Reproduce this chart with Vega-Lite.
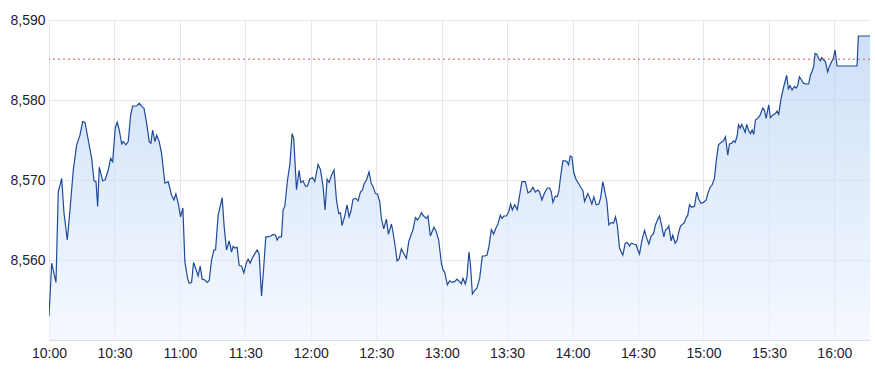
{
  "$schema": "https://vega.github.io/schema/vega-lite/v6.json",
  "width": 821,
  "height": 320,
  "autosize": "none",
  "padding": {"left": 49, "top": 20, "right": 5, "bottom": 35},
  "config": {
    "view": {"stroke": null},
    "font": "Liberation Sans",
    "axis": {"labelFont": "Liberation Sans", "labelFontSize": 14, "labelColor": "#1e2230", "gridColor": "#e6e6ea", "gridWidth": 1}
  },
  "layer": [
    {
      "data": {"values": [
        {"t":"2024-01-02T10:00:00","v":8553.0},{"t":"2024-01-02T10:01:14","v":8559.6},{"t":"2024-01-02T10:03:12","v":8557.2},{"t":"2024-01-02T10:04:15","v":8568.5},{"t":"2024-01-02T10:05:49","v":8570.2},{"t":"2024-01-02T10:06:52","v":8565.9},{"t":"2024-01-02T10:08:23","v":8562.5},{"t":"2024-01-02T10:09:37","v":8566.25},{"t":"2024-01-02T10:11:08","v":8571.25},{"t":"2024-01-02T10:12:41","v":8574.4},{"t":"2024-01-02T10:14:12","v":8575.6},{"t":"2024-01-02T10:15:26","v":8577.3},{"t":"2024-01-02T10:16:29","v":8577.2},{"t":"2024-01-02T10:18:00","v":8575.0},{"t":"2024-01-02T10:19:34","v":8572.7},{"t":"2024-01-02T10:20:37","v":8569.9},{"t":"2024-01-02T10:21:32","v":8569.8},{"t":"2024-01-02T10:22:18","v":8566.7},{"t":"2024-01-02T10:23:02","v":8571.6},{"t":"2024-01-02T10:24:36","v":8569.9},{"t":"2024-01-02T10:25:39","v":8570.0},{"t":"2024-01-02T10:27:10","v":8571.25},{"t":"2024-01-02T10:28:16","v":8572.7},{"t":"2024-01-02T10:29:11","v":8572.3},{"t":"2024-01-02T10:30:22","v":8576.5},{"t":"2024-01-02T10:31:17","v":8577.2},{"t":"2024-01-02T10:32:12","v":8576.25},{"t":"2024-01-02T10:33:18","v":8574.5},{"t":"2024-01-02T10:34:02","v":8574.8},{"t":"2024-01-02T10:35:16","v":8574.4},{"t":"2024-01-02T10:36:19","v":8574.8},{"t":"2024-01-02T10:37:25","v":8578.1},{"t":"2024-01-02T10:38:20","v":8579.25},{"t":"2024-01-02T10:40:10","v":8579.25},{"t":"2024-01-02T10:41:22","v":8579.6},{"t":"2024-01-02T10:42:28","v":8579.2},{"t":"2024-01-02T10:43:31","v":8579.0},{"t":"2024-01-02T10:44:45","v":8577.1},{"t":"2024-01-02T10:45:56","v":8574.8},{"t":"2024-01-02T10:46:43","v":8574.6},{"t":"2024-01-02T10:47:30","v":8576.25},{"t":"2024-01-02T10:48:33","v":8574.8},{"t":"2024-01-02T10:49:20","v":8575.6},{"t":"2024-01-02T10:50:31","v":8574.8},{"t":"2024-01-02T10:51:37","v":8573.3},{"t":"2024-01-02T10:53:08","v":8569.6},{"t":"2024-01-02T10:54:38","v":8569.8},{"t":"2024-01-02T10:56:12","v":8568.1},{"t":"2024-01-02T10:57:15","v":8567.5},{"t":"2024-01-02T10:58:10","v":8568.25},{"t":"2024-01-02T10:59:13","v":8567.1},
        {"t":"2024-01-02T11:00:19","v":8565.4},{"t":"2024-01-02T11:01:22","v":8566.5},{"t":"2024-01-02T11:02:17","v":8559.8},{"t":"2024-01-02T11:03:32","v":8557.7},{"t":"2024-01-02T11:04:16","v":8557.1},{"t":"2024-01-02T11:05:22","v":8557.2},{"t":"2024-01-02T11:06:16","v":8559.7},{"t":"2024-01-02T11:07:11","v":8559.0},{"t":"2024-01-02T11:08:23","v":8558.0},{"t":"2024-01-02T11:09:18","v":8559.25},{"t":"2024-01-02T11:10:13","v":8557.6},{"t":"2024-01-02T11:11:27","v":8557.5},{"t":"2024-01-02T11:12:30","v":8557.2},{"t":"2024-01-02T11:13:25","v":8557.4},{"t":"2024-01-02T11:14:31","v":8560.0},{"t":"2024-01-02T11:15:34","v":8561.25},{"t":"2024-01-02T11:16:21","v":8561.25},{"t":"2024-01-02T11:17:32","v":8565.6},{"t":"2024-01-02T11:18:38","v":8566.9},{"t":"2024-01-02T11:19:22","v":8567.8},{"t":"2024-01-02T11:20:17","v":8564.2},{"t":"2024-01-02T11:21:23","v":8561.25},{"t":"2024-01-02T11:22:35","v":8562.4},{"t":"2024-01-02T11:23:41","v":8561.0},{"t":"2024-01-02T11:24:25","v":8561.7},{"t":"2024-01-02T11:25:11","v":8561.5},{"t":"2024-01-02T11:26:14","v":8561.6},{"t":"2024-01-02T11:27:10","v":8559.3},{"t":"2024-01-02T11:28:16","v":8559.25},{"t":"2024-01-02T11:29:19","v":8558.4},{"t":"2024-01-02T11:30:33","v":8559.7},{"t":"2024-01-02T11:31:17","v":8560.1},{"t":"2024-01-02T11:32:12","v":8559.6},{"t":"2024-01-02T11:33:18","v":8560.3},{"t":"2024-01-02T11:34:21","v":8560.8},{"t":"2024-01-02T11:35:24","v":8561.25},{"t":"2024-01-02T11:36:19","v":8560.8},{"t":"2024-01-02T11:37:25","v":8555.5},{"t":"2024-01-02T11:38:20","v":8558.75},{"t":"2024-01-02T11:39:23","v":8562.9},{"t":"2024-01-02T11:40:26","v":8562.9},{"t":"2024-01-02T11:41:41","v":8563.0},{"t":"2024-01-02T11:42:44","v":8563.2},{"t":"2024-01-02T11:43:50","v":8563.1},{"t":"2024-01-02T11:44:34","v":8562.5},{"t":"2024-01-02T11:45:29","v":8562.9},{"t":"2024-01-02T11:46:35","v":8562.9},{"t":"2024-01-02T11:47:19","v":8566.25},{"t":"2024-01-02T11:48:05","v":8566.7},{"t":"2024-01-02T11:49:20","v":8570.0},{"t":"2024-01-02T11:50:23","v":8571.9},{"t":"2024-01-02T11:51:26","v":8575.8},{"t":"2024-01-02T11:52:13","v":8575.1},{"t":"2024-01-02T11:52:40","v":8572.7},{"t":"2024-01-02T11:53:27","v":8568.8},{"t":"2024-01-02T11:54:38","v":8571.2},{"t":"2024-01-02T11:55:25","v":8569.7},{"t":"2024-01-02T11:56:28","v":8569.9},{"t":"2024-01-02T11:57:34","v":8569.2},{"t":"2024-01-02T11:58:29","v":8569.25},{"t":"2024-01-02T11:59:32","v":8570.1},
        {"t":"2024-01-02T12:00:47","v":8570.3},{"t":"2024-01-02T12:01:50","v":8569.8},{"t":"2024-01-02T12:03:20","v":8571.95},{"t":"2024-01-02T12:04:26","v":8571.3},{"t":"2024-01-02T12:05:38","v":8569.2},{"t":"2024-01-02T12:06:33","v":8566.25},{"t":"2024-01-02T12:07:28","v":8570.1},{"t":"2024-01-02T12:08:23","v":8569.7},{"t":"2024-01-02T12:09:29","v":8570.6},{"t":"2024-01-02T12:10:40","v":8571.25},{"t":"2024-01-02T12:11:46","v":8567.5},{"t":"2024-01-02T12:12:49","v":8565.8},{"t":"2024-01-02T12:13:36","v":8565.9},{"t":"2024-01-02T12:14:20","v":8564.3},{"t":"2024-01-02T12:15:34","v":8565.5},{"t":"2024-01-02T12:16:37","v":8566.9},{"t":"2024-01-02T12:17:32","v":8565.4},{"t":"2024-01-02T12:18:19","v":8566.0},{"t":"2024-01-02T12:19:22","v":8567.6},{"t":"2024-01-02T12:20:37","v":8567.7},{"t":"2024-01-02T12:21:40","v":8567.4},{"t":"2024-01-02T12:22:46","v":8568.5},{"t":"2024-01-02T12:23:41","v":8568.75},{"t":"2024-01-02T12:24:25","v":8569.5},{"t":"2024-01-02T12:25:31","v":8570.0},{"t":"2024-01-02T12:26:42","v":8571.0},{"t":"2024-01-02T12:27:48","v":8569.5},{"t":"2024-01-02T12:28:32","v":8569.2},{"t":"2024-01-02T12:29:38","v":8568.3},{"t":"2024-01-02T12:30:33","v":8568.25},{"t":"2024-01-02T12:31:36","v":8567.3},{"t":"2024-01-02T12:32:23","v":8565.2},{"t":"2024-01-02T12:33:26","v":8563.9},{"t":"2024-01-02T12:34:40","v":8565.1},{"t":"2024-01-02T12:35:35","v":8563.2},{"t":"2024-01-02T12:36:58","v":8564.5},{"t":"2024-01-02T12:37:41","v":8563.5},{"t":"2024-01-02T12:38:47","v":8561.5},{"t":"2024-01-02T12:39:31","v":8559.9},{"t":"2024-01-02T12:40:26","v":8560.1},{"t":"2024-01-02T12:41:32","v":8561.4},{"t":"2024-01-02T12:42:44","v":8560.75},{"t":"2024-01-02T12:43:50","v":8560.2},{"t":"2024-01-02T12:44:53","v":8562.3},{"t":"2024-01-02T12:46:07","v":8563.25},{"t":"2024-01-02T12:46:52","v":8563.8},{"t":"2024-01-02T12:47:57","v":8565.3},{"t":"2024-01-02T12:48:52","v":8565.0},{"t":"2024-01-02T12:49:55","v":8565.4},{"t":"2024-01-02T12:50:42","v":8565.9},{"t":"2024-01-02T12:51:45","v":8565.5},{"t":"2024-01-02T12:52:59","v":8565.2},{"t":"2024-01-02T12:53:43","v":8565.5},{"t":"2024-01-02T12:54:49","v":8563.0},{"t":"2024-01-02T12:55:33","v":8563.5},{"t":"2024-01-02T12:56:28","v":8564.1},{"t":"2024-01-02T12:57:34","v":8563.5},{"t":"2024-01-02T12:58:37","v":8562.5},{"t":"2024-01-02T12:59:52","v":8559.6},
        {"t":"2024-01-02T13:00:36","v":8558.75},{"t":"2024-01-02T13:01:22","v":8558.5},{"t":"2024-01-02T13:02:37","v":8556.9},{"t":"2024-01-02T13:03:40","v":8557.4},{"t":"2024-01-02T13:04:43","v":8557.2},{"t":"2024-01-02T13:05:57","v":8557.3},{"t":"2024-01-02T13:07:00","v":8557.6},{"t":"2024-01-02T13:08:14","v":8557.3},{"t":"2024-01-02T13:09:01","v":8557.0},{"t":"2024-01-02T13:09:45","v":8557.7},{"t":"2024-01-02T13:10:51","v":8557.0},{"t":"2024-01-02T13:11:35","v":8557.9},{"t":"2024-01-02T13:12:30","v":8561.0},{"t":"2024-01-02T13:13:08","v":8559.6},{"t":"2024-01-02T13:14:04","v":8555.75},{"t":"2024-01-02T13:15:07","v":8556.2},{"t":"2024-01-02T13:16:10","v":8556.5},{"t":"2024-01-02T13:17:24","v":8557.7},{"t":"2024-01-02T13:18:38","v":8560.5},{"t":"2024-01-02T13:19:41","v":8560.5},{"t":"2024-01-02T13:20:45","v":8560.6},{"t":"2024-01-02T13:21:40","v":8561.7},{"t":"2024-01-02T13:22:46","v":8563.8},{"t":"2024-01-02T13:23:49","v":8563.25},{"t":"2024-01-02T13:24:44","v":8563.9},{"t":"2024-01-02T13:25:47","v":8564.5},{"t":"2024-01-02T13:26:53","v":8565.6},{"t":"2024-01-02T13:27:37","v":8565.2},{"t":"2024-01-02T13:28:32","v":8565.5},{"t":"2024-01-02T13:29:38","v":8565.5},{"t":"2024-01-02T13:30:41","v":8566.0},{"t":"2024-01-02T13:31:36","v":8567.0},{"t":"2024-01-02T13:32:23","v":8566.25},{"t":"2024-01-02T13:33:26","v":8566.9},{"t":"2024-01-02T13:34:40","v":8566.3},{"t":"2024-01-02T13:35:44","v":8568.1},{"t":"2024-01-02T13:36:47","v":8569.8},{"t":"2024-01-02T13:38:20","v":8569.8},{"t":"2024-01-02T13:39:32","v":8568.4},{"t":"2024-01-02T13:40:46","v":8568.6},{"t":"2024-01-02T13:41:49","v":8569.1},{"t":"2024-01-02T13:42:55","v":8568.5},{"t":"2024-01-02T13:44:06","v":8568.75},{"t":"2024-01-02T13:44:53","v":8568.5},{"t":"2024-01-02T13:45:56","v":8567.5},{"t":"2024-01-02T13:47:11","v":8568.4},{"t":"2024-01-02T13:48:25","v":8569.0},{"t":"2024-01-02T13:49:28","v":8569.0},{"t":"2024-01-02T13:50:14","v":8568.5},{"t":"2024-01-02T13:50:59","v":8567.2},{"t":"2024-01-02T13:52:04","v":8568.0},{"t":"2024-01-02T13:52:59","v":8567.9},{"t":"2024-01-02T13:53:43","v":8568.6},{"t":"2024-01-02T13:54:30","v":8570.4},{"t":"2024-01-02T13:55:33","v":8572.4},{"t":"2024-01-02T13:56:39","v":8572.4},{"t":"2024-01-02T13:57:23","v":8572.3},{"t":"2024-01-02T13:58:10","v":8571.9},{"t":"2024-01-02T13:58:56","v":8573.0},{"t":"2024-01-02T13:59:40","v":8572.9},
        {"t":"2024-01-02T14:00:35","v":8570.9},{"t":"2024-01-02T14:01:41","v":8570.0},{"t":"2024-01-02T14:02:53","v":8569.5},{"t":"2024-01-02T14:03:59","v":8569.0},{"t":"2024-01-02T14:04:43","v":8568.7},{"t":"2024-01-02T14:05:29","v":8567.3},{"t":"2024-01-02T14:07:00","v":8568.3},{"t":"2024-01-02T14:07:47","v":8567.8},{"t":"2024-01-02T14:08:50","v":8567.0},{"t":"2024-01-02T14:09:45","v":8567.9},{"t":"2024-01-02T14:10:51","v":8566.9},{"t":"2024-01-02T14:12:02","v":8567.0},{"t":"2024-01-02T14:12:49","v":8567.7},{"t":"2024-01-02T14:13:52","v":8569.8},{"t":"2024-01-02T14:15:07","v":8568.1},{"t":"2024-01-02T14:15:43","v":8567.3},{"t":"2024-01-02T14:16:37","v":8564.4},{"t":"2024-01-02T14:17:43","v":8564.7},{"t":"2024-01-02T14:18:47","v":8564.6},{"t":"2024-01-02T14:19:41","v":8565.4},{"t":"2024-01-02T14:20:28","v":8564.4},{"t":"2024-01-02T14:21:32","v":8561.5},{"t":"2024-01-02T14:22:19","v":8561.0},{"t":"2024-01-02T14:23:02","v":8560.6},{"t":"2024-01-02T14:24:08","v":8562.1},{"t":"2024-01-02T14:25:04","v":8562.2},{"t":"2024-01-02T14:26:07","v":8561.75},{"t":"2024-01-02T14:26:53","v":8562.1},{"t":"2024-01-02T14:27:56","v":8562.0},{"t":"2024-01-02T14:29:11","v":8561.9},{"t":"2024-01-02T14:29:55","v":8561.25},{"t":"2024-01-02T14:30:41","v":8560.75},{"t":"2024-01-02T14:31:44","v":8562.4},{"t":"2024-01-02T14:32:59","v":8563.7},{"t":"2024-01-02T14:34:02","v":8562.7},{"t":"2024-01-02T14:34:57","v":8562.0},{"t":"2024-01-02T14:36:02","v":8563.0},{"t":"2024-01-02T14:37:06","v":8563.3},{"t":"2024-01-02T14:38:01","v":8564.4},{"t":"2024-01-02T14:39:04","v":8565.1},{"t":"2024-01-02T14:39:51","v":8565.5},{"t":"2024-01-02T14:40:54","v":8564.2},{"t":"2024-01-02T14:41:49","v":8562.9},{"t":"2024-01-02T14:42:35","v":8563.75},{"t":"2024-01-02T14:43:38","v":8564.0},{"t":"2024-01-02T14:44:06","v":8564.25},{"t":"2024-01-02T14:45:12","v":8562.4},{"t":"2024-01-02T14:45:56","v":8563.1},{"t":"2024-01-02T14:47:02","v":8562.1},{"t":"2024-01-02T14:47:57","v":8562.5},{"t":"2024-01-02T14:48:41","v":8563.5},{"t":"2024-01-02T14:49:28","v":8564.25},{"t":"2024-01-02T14:50:31","v":8564.5},{"t":"2024-01-02T14:51:17","v":8564.7},{"t":"2024-01-02T14:52:04","v":8565.3},{"t":"2024-01-02T14:52:48","v":8565.6},{"t":"2024-01-02T14:53:35","v":8566.9},{"t":"2024-01-02T14:54:38","v":8566.6},{"t":"2024-01-02T14:55:53","v":8566.7},{"t":"2024-01-02T14:56:56","v":8568.5},{"t":"2024-01-02T14:57:50","v":8567.6},{"t":"2024-01-02T14:58:56","v":8567.1},
        {"t":"2024-01-02T15:00:00","v":8567.2},{"t":"2024-01-02T15:01:14","v":8567.5},{"t":"2024-01-02T15:01:58","v":8568.3},{"t":"2024-01-02T15:03:04","v":8569.1},{"t":"2024-01-02T15:03:59","v":8569.4},{"t":"2024-01-02T15:05:02","v":8570.2},{"t":"2024-01-02T15:05:49","v":8572.3},{"t":"2024-01-02T15:06:52","v":8574.4},{"t":"2024-01-02T15:08:06","v":8574.7},{"t":"2024-01-02T15:09:10","v":8574.9},{"t":"2024-01-02T15:10:05","v":8575.4},{"t":"2024-01-02T15:11:08","v":8573.1},{"t":"2024-01-02T15:11:55","v":8574.5},{"t":"2024-01-02T15:12:58","v":8574.6},{"t":"2024-01-02T15:13:44","v":8574.9},{"t":"2024-01-02T15:14:31","v":8574.7},{"t":"2024-01-02T15:15:26","v":8575.5},{"t":"2024-01-02T15:16:02","v":8576.9},{"t":"2024-01-02T15:16:49","v":8576.5},{"t":"2024-01-02T15:17:32","v":8576.95},{"t":"2024-01-02T15:18:19","v":8576.5},{"t":"2024-01-02T15:19:06","v":8575.95},{"t":"2024-01-02T15:19:50","v":8576.95},{"t":"2024-01-02T15:20:37","v":8576.25},{"t":"2024-01-02T15:21:32","v":8575.8},{"t":"2024-01-02T15:22:18","v":8576.25},{"t":"2024-01-02T15:23:02","v":8575.7},{"t":"2024-01-02T15:23:49","v":8577.5},{"t":"2024-01-02T15:24:52","v":8577.7},{"t":"2024-01-02T15:25:58","v":8578.1},{"t":"2024-01-02T15:27:10","v":8579.0},{"t":"2024-01-02T15:27:56","v":8578.75},{"t":"2024-01-02T15:28:43","v":8577.7},{"t":"2024-01-02T15:29:27","v":8578.75},{"t":"2024-01-02T15:29:54","v":8579.4},{"t":"2024-01-02T15:30:41","v":8577.8},{"t":"2024-01-02T15:31:44","v":8578.1},{"t":"2024-01-02T15:32:50","v":8578.3},{"t":"2024-01-02T15:33:45","v":8578.6},{"t":"2024-01-02T15:34:29","v":8578.2},{"t":"2024-01-02T15:35:35","v":8580.2},{"t":"2024-01-02T15:36:38","v":8581.5},{"t":"2024-01-02T15:37:34","v":8582.5},{"t":"2024-01-02T15:38:09","v":8583.1},{"t":"2024-01-02T15:38:56","v":8581.4},{"t":"2024-01-02T15:39:42","v":8581.8},{"t":"2024-01-02T15:40:37","v":8581.25},{"t":"2024-01-02T15:41:41","v":8581.7},{"t":"2024-01-02T15:42:27","v":8581.5},{"t":"2024-01-02T15:43:11","v":8581.8},{"t":"2024-01-02T15:43:58","v":8582.9},{"t":"2024-01-02T15:44:44","v":8582.6},{"t":"2024-01-02T15:45:48","v":8582.1},{"t":"2024-01-02T15:47:02","v":8582.0},{"t":"2024-01-02T15:48:13","v":8582.0},{"t":"2024-01-02T15:49:01","v":8583.1},{"t":"2024-01-02T15:49:47","v":8583.6},{"t":"2024-01-02T15:50:31","v":8584.2},{"t":"2024-01-02T15:51:09","v":8585.8},{"t":"2024-01-02T15:51:53","v":8585.75},{"t":"2024-01-02T15:52:49","v":8585.2},{"t":"2024-01-02T15:53:35","v":8584.9},{"t":"2024-01-02T15:54:11","v":8585.3},{"t":"2024-01-02T15:55:06","v":8585.0},{"t":"2024-01-02T15:55:53","v":8584.8},{"t":"2024-01-02T15:56:56","v":8583.5},{"t":"2024-01-02T15:57:43","v":8584.2},{"t":"2024-01-02T15:58:46","v":8584.8},{"t":"2024-01-02T15:59:32","v":8585.2},{"t":"2024-01-02T16:00:19","v":8586.25},{"t":"2024-01-02T16:01:14","v":8584.25},{"t":"2024-01-02T16:10:23","v":8584.25},{"t":"2024-01-02T16:11:00","v":8588.0},{"t":"2024-01-02T16:16:20","v":8588.0}
      ]},
      "mark": {
        "type": "area",
        "clip": true,
        "line": {"color": "#1f4a9a", "strokeWidth": 1.2},
        "color": {
          "x1": 1, "y1": 1, "x2": 1, "y2": 0,
          "gradient": "linear",
          "stops": [
            {"offset": 0, "color": "rgba(238,245,255,0.85)"},
            {"offset": 1, "color": "rgba(172,203,242,0.85)"}
          ]
        }
      },
      "encoding": {
        "x": {
          "field": "t", "type": "temporal", "title": null,
          "scale": {"domain": [
            {"year": 2024, "month": 1, "date": 2, "hours": 10, "minutes": 0},
            {"year": 2024, "month": 1, "date": 2, "hours": 16, "minutes": 16, "seconds": 20}
          ]},
          "axis": {
            "format": "%H:%M",
            "values": [
              {"year": 2024, "month": 1, "date": 2, "hours": 10, "minutes": 0},
              {"year": 2024, "month": 1, "date": 2, "hours": 10, "minutes": 30},
              {"year": 2024, "month": 1, "date": 2, "hours": 11, "minutes": 0},
              {"year": 2024, "month": 1, "date": 2, "hours": 11, "minutes": 30},
              {"year": 2024, "month": 1, "date": 2, "hours": 12, "minutes": 0},
              {"year": 2024, "month": 1, "date": 2, "hours": 12, "minutes": 30},
              {"year": 2024, "month": 1, "date": 2, "hours": 13, "minutes": 0},
              {"year": 2024, "month": 1, "date": 2, "hours": 13, "minutes": 30},
              {"year": 2024, "month": 1, "date": 2, "hours": 14, "minutes": 0},
              {"year": 2024, "month": 1, "date": 2, "hours": 14, "minutes": 30},
              {"year": 2024, "month": 1, "date": 2, "hours": 15, "minutes": 0},
              {"year": 2024, "month": 1, "date": 2, "hours": 15, "minutes": 30},
              {"year": 2024, "month": 1, "date": 2, "hours": 16, "minutes": 0}
            ],
            "ticks": false,
            "domainColor": "#dcdce0",
            "labelPadding": 6,
            "labelFlush": false
          }
        },
        "y": {
          "field": "v", "type": "quantitative", "title": null, "stack": null,
          "scale": {"domain": [8550, 8590], "zero": false, "nice": false},
          "axis": {
            "values": [8560, 8570, 8580, 8590],
            "ticks": false,
            "domain": false,
            "labelPadding": 4
          }
        }
      }
    },
    {
      "data": {"values": [{"ref": 8585.1}]},
      "mark": {"type": "rule", "color": "#d9534f", "strokeWidth": 1, "strokeDash": [2, 3]},
      "encoding": {"y": {"field": "ref", "type": "quantitative"}}
    }
  ]
}
